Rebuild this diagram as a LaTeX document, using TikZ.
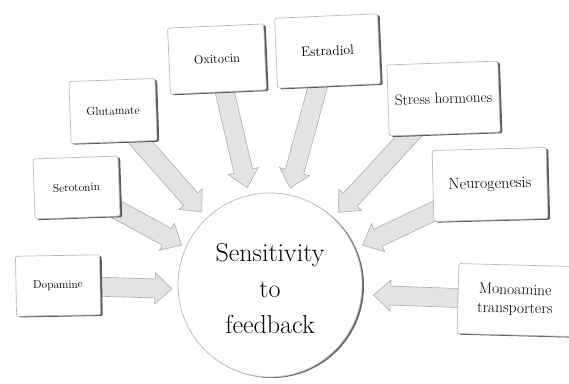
\documentclass[tikz,border=0pt]{standalone}
\usetikzlibrary{shadows,calc,backgrounds}
\newcommand{\myblockarrow}[2]{%
  \path (#1) coordinate (ba-s) (#2) coordinate (ba-t);
  \path ($(ba-t)!17pt!(ba-s)$) coordinate (ba-h);
  \draw[barrow] ($(ba-s)!9.5pt!90:(ba-t)$) -- ($(ba-h)!9.5pt!90:(ba-t)$) -- ($(ba-h)!15.5pt!90:(ba-t)$) -- (ba-t) -- ($(ba-h)!15.5pt!-90:(ba-t)$) -- ($(ba-h)!9.5pt!-90:(ba-t)$) -- ($(ba-s)!9.5pt!-90:(ba-t)$) -- cycle;}
\begin{document}
\begin{tikzpicture}[x=1pt,y=1pt,
  box/.style={draw=gray!55, line width=0.7pt, fill=white, rounded corners=1.5pt,
    drop shadow={shadow xshift=2.2pt, shadow yshift=-1.2pt, fill=black!75, opacity=0.85},
    align=center, inner sep=2pt},
  barrow/.style={draw=gray!65, line width=0.6pt, fill=gray!22},
  hub/.style={circle, draw=gray!50, line width=0.8pt, fill=white, minimum size=184pt,
    drop shadow={shadow xshift=2pt, shadow yshift=-1pt, fill=black!75, opacity=0.8}},
  hubtext/.style={align=center, font=\fontsize{26}{36}\selectfont}]
\useasboundingbox (0,0) rectangle (569,383);
\node[hub] (c) at (270,98) {};
\node[hubtext] (ct) at ([yshift=-4pt]c.center) {Sensitivity\\to\\feedback};
\node[box, minimum width=84pt, minimum height=60pt, rotate=1, font=\fontsize{11.5}{14}\selectfont] (dop) at (58,97.5) {Dopamine};
\node[box, minimum width=85pt, minimum height=60pt, rotate=2, font=\fontsize{11.5}{14}\selectfont] (ser) at (76.5,195.5) {Serotonin};
\node[box, minimum width=86pt, minimum height=62pt, rotate=2, font=\fontsize{11.6}{14}\selectfont] (glu) at (113,272) {Glutamate};
\node[box, minimum width=96pt, minimum height=66pt, rotate=2.5, font=\fontsize{12.5}{15}\selectfont] (oxi) at (217,324) {Oxitocin};
\node[box, minimum width=103pt, minimum height=70pt, rotate=2.5, font=\fontsize{13.6}{16}\selectfont] (est) at (327.5,332) {Estradiol};
\node[box, minimum width=111pt, minimum height=71pt, rotate=2, font=\fontsize{15}{18}\selectfont] (str) at (443.5,284.5) {Stress hormones};
\node[box, minimum width=114pt, minimum height=71pt, rotate=1.5, font=\fontsize{16}{19}\selectfont] (neu) at (490,198.5) {Neurogenesis};
\node[box, minimum width=114pt, minimum height=70pt, rotate=-1.5, font=\fontsize{15.5}{18.5}\selectfont] (mono) at (515,83) {Monoamine\\transporters};
\coordinate (t-dop) at ($(c.center)+(182.3:98pt)$);
\coordinate (t-ser) at ($(c.center)+(155.6:97pt)$);
\coordinate (t-glu) at ($(c.center)+(133:100pt)$);
\coordinate (t-oxi) at ($(c.center)+(103.2:100pt)$);
\coordinate (t-est) at ($(c.center)+(78.3:99pt)$);
\coordinate (t-str) at ($(c.center)+(46.6:100pt)$);
\coordinate (t-neu) at ($(c.center)+(23.3:101pt)$);
\coordinate (t-mono) at ($(c.center)+(-5.5:104pt)$);
\begin{scope}[on background layer]
\myblockarrow{dop}{t-dop}
\myblockarrow{ser}{t-ser}
\myblockarrow{glu}{t-glu}
\myblockarrow{oxi}{t-oxi}
\myblockarrow{est}{t-est}
\myblockarrow{str}{t-str}
\myblockarrow{neu}{t-neu}
\myblockarrow{mono}{t-mono}
\end{scope}
\end{tikzpicture}
\end{document}
